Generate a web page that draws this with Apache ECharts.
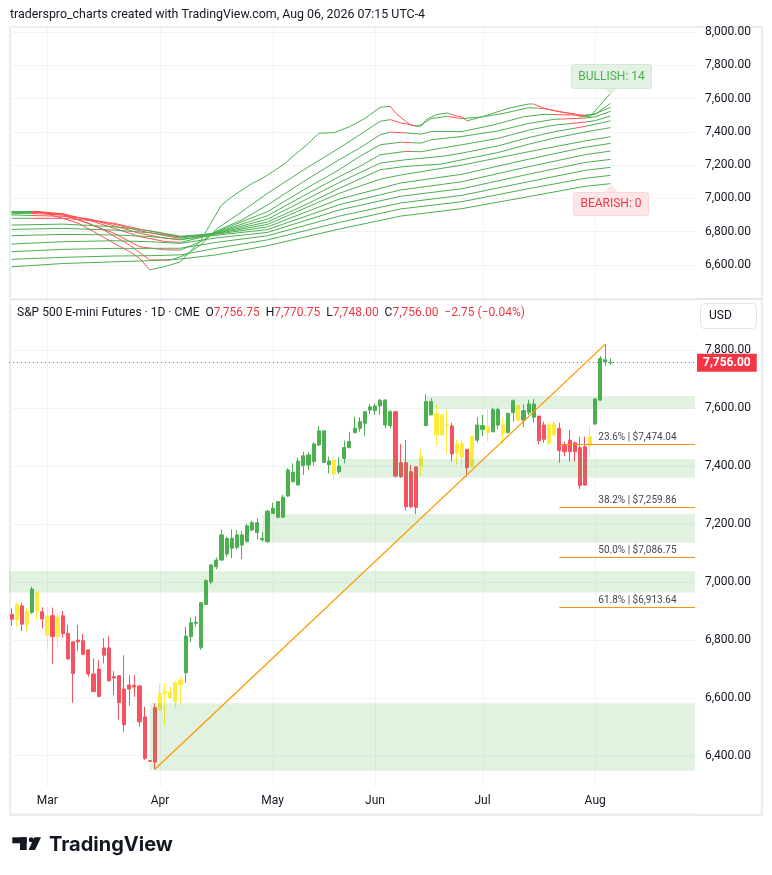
<!DOCTYPE html>
<html><head><meta charset="utf-8">
<script src="https://cdn.jsdelivr.net/npm/echarts@6/dist/echarts.min.js"></script>
<style>html,body{margin:0;padding:0;background:#fff}#c{width:772px;height:875px}</style>
</head><body><div id="c"></div>
<script>
// ---------------- DATA ----------------
const year = 2026;
const dates = ['02-19','02-20','02-23','02-24','02-25','02-26','02-27',
'03-02','03-03','03-04','03-05','03-06','03-09','03-10','03-11','03-12','03-13','03-16','03-17','03-18','03-19','03-20','03-23','03-24','03-25','03-26','03-27','03-30','03-31',
'04-01','04-02','04-03','04-06','04-07','04-08','04-09','04-10','04-13','04-14','04-15','04-16','04-17','04-20','04-21','04-22','04-23','04-24','04-27','04-28','04-29','04-30',
'05-01','05-04','05-05','05-06','05-07','05-08','05-11','05-12','05-13','05-14','05-15','05-18','05-19','05-20','05-21','05-22','05-26','05-27','05-28','05-29',
'06-01','06-02','06-03','06-04','06-05','06-08','06-09','06-10','06-11','06-12','06-15','06-16','06-17','06-18','06-22','06-23','06-24','06-25','06-26','06-29','06-30',
'07-01','07-02','07-06','07-07','07-08','07-09','07-10','07-13','07-14','07-15','07-16','07-17','07-20','07-21','07-22','07-23','07-24','07-27','07-28','07-29','07-30','07-31',
'08-03','08-04','08-05','08-06',
'08-07','08-10','08-11','08-12','08-13','08-14','08-17','08-18','08-19','08-20','08-21','08-24','08-25','08-26','08-27','08-28'];
const monthNames = ['Jan','Feb','Mar','Apr','May','Jun','Jul','Aug','Sep','Oct','Nov','Dec'];

const opens = [6888,6870,6917,6854,6895,6964,6897,6882,6883,6811,
6883,6822,6793,6799,6797,6765,6682,6699,6772,6772,
6673,6676,6630,6644,6643,6641,6534,6383,6378,6558,
6615,6619,6586,6646,6686,6811,6857,6774,6922,7000,
7052,7075,7096,7116,7119,7127,7139,7179,7170,7145,
7139,7236,7223,7223,7296,7346,7334,7401,7403,7415,
7472,7412,7404,7372,7380,7426,7463,7515,7530,7547,
7593,7591,7607,7541,7539,7587,7411,7411,7380,7397,
7397,7539,7576,7581,7507,7539,7538,7446,7430,7457,
7397,7489,7526,7515,7518,7541,7541,7515,7584,7607,
7558,7584,7568,7572,7541,7478,7507,7530,7472,7489,
7480,7463,7466,7469,7545,7627,7766,7756.75];
const highs = [6908,6930,6928,6911,6983,6968,6912,6911,6911,6894,
6899,6851,6793,6851,6820,6768,6736,6730,6806,6813,
6692,6676,6747,6678,6678,6643,6569,6384,6581,6650,
6650,6638,6659,6673,6845,6877,6882,6930,7009,7062,
7084,7181,7156,7181,7179,7175,7200,7211,7219,7172,
7248,7273,7279,7300,7392,7409,7429,7449,7449,7481,
7538,7521,7432,7438,7430,7487,7518,7570,7568,7590,
7614,7616,7631,7631,7593,7590,7476,7489,7403,7397,
7457,7647,7633,7610,7576,7593,7549,7492,7489,7457,
7503,7568,7576,7595,7601,7601,7564,7584,7630,7613,
7613,7628,7631,7572,7553,7553,7556,7549,7484,7524,
7484,7501,7501,7538,7633,7779,7820.25,7770.75];
const lows = [6848,6845,6830,6828,6889,6868,6839,6767,6716,6773,
6808,6730,6583,6762,6747,6673,6621,6604,6719,6655,
6609,6525,6482,6572,6603,6500,6386,6379,6353.25,6558,
6504,6598,6566,6575,6652,6793,6845,6765,6922,6991,
7043,7073,7085,7081,7112,7078,7135,7175,7147,7139,
7135,7236,7219,7223,7294,7342,7334,7369,7386,7400,
7469,7409,7374,7351,7372,7409,7461,7512,7518,7503,
7579,7576,7576,7530,7530,7360,7359,7246,7254,7234,
7365,7539,7576,7470,7503,7443,7415,7405,7400,7363,
7395,7480,7503,7484,7516,7527,7476,7512,7553,7553,
7533,7576,7549,7474,7480,7476,7503,7411,7434,7415,
7415,7320,7332,7430,7541,7625,7746,7748];
const closes = [6871,6922,6854,6899,6975,6899,6872,6816,6811,6879,
6822,6734,6684,6793,6750,6682,6621,6604,6747,6659,
6668,6583,6507,6630,6637,6517,6391,6381,6566,6615,
6623,6600,6652,6661,6813,6859,6861,6928,7004,7058,
7075,7162,7150,7150,7162,7162,7193,7204,7204,7150,
7244,7254,7277,7292,7386,7378,7417,7435,7438,7476,
7521,7521,7417,7420,7400,7463,7484,7530,7553,7587,
7604,7607,7627,7627,7587,7365,7363,7259,7259,7257,
7432,7622,7622,7507,7576,7542,7441,7476,7478,7394,
7503,7541,7539,7535,7595,7595,7512,7581,7625,7558,
7591,7614,7614,7487,7492,7541,7545,7453,7449,7449,
7449,7332,7334,7501,7631,7771,7758.75,7756];
// U = bullish, D = bearish, N = neutral (indicator bar state)
const signals = ['D','N','D','N','U','N','D','N','D','N',
'D','D','D','D','D','D','D','D','D','D',
'D','D','D','D','D','D','D','D','D','N',
'N','N','N','N','U','U','U','U','U','U',
'U','U','U','U','U','U','U','U','U','U',
'U','U','U','U','U','U','U','U','U','U',
'U','U','U','N','U','U','U','U','U','U',
'U','U','U','U','U','D','D','D','D','D',
'N','U','U','N','N','N','D','N','N','D',
'N','U','U','N','U','U','N','U','U','N',
'U','U','U','D','D','N','N','D','D','D',
'D','D','D','N','U','U','U','U'];

// MA ribbon (top pane)
const ribbon1 = [['02-19',6905],['02-24',6912],['02-26',6920],['03-02',6905],['03-05',6880],['03-10',6850],['03-13',6800],['03-19',6730],['03-24',6680],['03-26',6640],['03-30',6570],['04-02',6590],['04-07',6618],['04-13',6749],['04-17',6959],['04-21',7009],['04-23',7050],['04-27',7090],['04-29',7120],['05-01',7160],['05-05',7200],['05-06',7226],['05-08',7280],['05-12',7330],['05-14',7391],['05-19',7395],['05-22',7430],['05-28',7480],['06-02',7547],['06-04',7553],['06-05',7513],['06-09',7463],['06-10',7439],['06-12',7433],['06-15',7473],['06-17',7503],['06-22',7513],['06-23',7503],['06-25',7488],['06-26',7466],['07-01',7491],['07-06',7511],['07-09',7541],['07-15',7567],['07-16',7567],['07-20',7541],['07-23',7521],['07-28',7507],['07-29',7491],['07-31',7491],['08-04',7561],['08-06',7631]];
const ribbon2 = [['02-19',6912],['02-26',6918],['03-05',6900],['03-12',6850],['03-17',6809],['03-24',6720],['03-30',6630],['04-03',6628],['04-08',6660],['04-13',6720],['04-16',6815],['04-23',6920],['04-30',7030],['05-11',7170],['05-20',7302],['05-27',7382],['06-02',7463],['06-04',7473],['06-08',7453],['06-10',7443],['06-11',7433],['06-12',7443],['06-16',7479],['06-22',7493],['06-25',7479],['07-01',7490],['07-08',7510],['07-15',7545],['07-20',7540],['07-24',7515],['07-30',7497],['08-03',7505],['08-06',7571]];
const ribbon3 = [['02-19',6918],['02-26',6922],['03-05',6905],['03-11',6860],['03-19',6790],['03-26',6709],['04-02',6690],['04-07',6689],['04-13',6740],['04-16',6803],['04-23',6870],['04-30',6960],['05-11',7100],['05-20',7232],['05-27',7302],['06-02',7382],['06-04',7398],['06-09',7393],['06-12',7386],['06-16',7402],['06-25',7402],['07-06',7440],['07-14',7490],['07-20',7505],['07-24',7502],['07-30',7500],['08-03',7508],['08-06',7547]];
const ribbon4 = [['02-19',6922],['03-05',6908],['03-12',6870],['03-19',6820],['03-26',6770],['04-02',6740],['04-07',6735],['04-13',6765],['04-16',6798],['04-30',6920],['05-11',7050],['05-20',7172],['05-27',7252],['06-02',7322],['06-08',7337],['06-12',7332],['06-16',7352],['06-25',7372],['07-07',7405],['07-15',7450],['07-22',7475],['07-30',7482],['08-03',7490],['08-06',7523]];
const ribbon5 = [['02-19',6915],['03-05',6900],['03-12',6875],['03-19',6835],['03-26',6790],['04-02',6760],['04-07',6750],['04-13',6772],['04-16',6795],['04-30',6895],['05-11',7015],['05-20',7130],['05-27',7192],['06-02',7262],['06-09',7282],['06-12',7280],['06-18',7302],['06-25',7322],['07-07',7360],['07-15',7410],['07-22',7440],['07-30',7458],['08-03',7467],['08-06',7495]];
const ribbon6 = [['02-19',6900],['03-05',6892],['03-12',6875],['03-19',6845],['03-26',6805],['04-02',6775],['04-07',6760],['04-13',6778],['04-16',6793],['04-30',6875],['05-11',6985],['05-20',7095],['06-02',7212],['06-09',7232],['06-18',7252],['06-25',7272],['07-07',7315],['07-15',7365],['07-22',7400],['07-30',7432],['08-06',7466]];
const ribbon7 = [['02-19',6880],['03-05',6880],['03-12',6868],['03-19',6850],['03-26',6815],['04-02',6785],['04-07',6768],['04-13',6780],['04-16',6790],['04-30',6858],['05-11',6955],['05-20',7060],['06-02',7172],['06-09',7192],['06-18',7206],['06-25',7232],['07-07',7275],['07-15',7325],['07-22',7362],['07-30',7398],['08-06',7425]];
const ribbon8 = [['02-19',6839],['03-05',6845],['03-19',6829],['03-30',6805],['04-07',6772],['04-16',6788],['04-30',6843],['05-20',7030],['06-02',7115],['06-08',7140],['06-25',7200],['07-15',7280],['07-30',7345],['08-06',7370]];
const ribbon9 = [['02-19',6813],['03-05',6819],['03-19',6809],['03-30',6793],['04-07',6766],['04-16',6784],['04-30',6828],['05-20',6995],['06-08',7092],['06-25',7145],['07-15',7235],['07-30',7307],['08-06',7330]];
const ribbon10 = [['02-19',6775],['03-05',6783],['03-19',6780],['03-30',6770],['04-07',6753],['04-16',6778],['04-30',6812],['05-20',6962],['06-08',7050],['06-25',7100],['07-15',7190],['07-30',7262],['08-06',7284]];
const ribbon11 = [['02-19',6725],['03-05',6739],['03-19',6745],['03-30',6739],['04-07',6729],['04-16',6762],['04-30',6795],['05-20',6930],['06-08',7012],['06-25',7058],['07-15',7145],['07-30',7215],['08-06',7234]];
const ribbon12 = [['02-19',6679],['03-05',6693],['03-19',6699],['03-30',6699],['04-07',6700],['04-16',6735],['04-30',6775],['05-20',6893],['06-08',6972],['06-25',7018],['07-15',7100],['07-30',7168],['08-06',7186]];
const ribbon13 = [['02-19',6633],['03-05',6645],['03-19',6653],['03-30',6655],['04-07',6660],['04-16',6700],['04-30',6750],['05-20',6855],['06-08',6936],['06-25',6980],['07-15',7058],['07-30',7120],['08-06',7138]];
const ribbon14 = [['02-19',6588],['03-05',6608],['03-19',6618],['03-30',6625],['04-07',6635],['04-16',6660],['04-30',6715],['05-20',6815],['06-08',6893],['06-25',6938],['07-15',7010],['07-30',7072],['08-06',7088]];
// spans where each ribbon line is falling (bearish state)
const bearishSpans = [
  [['02-25','03-30'],['06-04','06-10'],['06-23','06-26'],['07-16','07-29']],
  [['02-25','04-03'],['06-04','06-11'],['06-22','06-25'],['07-17','07-30']],
  [['02-25','04-07'],['06-04','06-09'],['07-22','07-30']],
  [['02-25','04-07'],['06-08','06-10'],['07-23','07-30']],
  [['02-25','04-07'],['06-09','06-10'],['07-27','07-30']],
  [['02-25','04-07'],['07-28','07-30']],
  [['02-25','04-07']],
  [],[],[],[],[],[],[]
];
const bullishCount = 14, bearishCount = 0;

// support zones (price bounds) and their start bars (null = from chart start)
const zoneTop = [7641, 7424, 7234, 7037, 6581];
const zoneBottom = [7597, 7359, 7135, 6963, 6348];
const zoneStart = ['06-15', '05-20', '04-29', null, '03-30'];

// swing used for trend line and fibonacci
const swingLowDate = '03-31', swingHighDate = '08-05', fibStartDate = '07-23';
const fibRatios = [23.6, 38.2, 50.0, 61.8];

const symbolName = 'S&P 500 E-mini Futures · 1D · CME';
const titleText = 'traderspro_charts created with TradingView.com, Aug 06, 2026 07:15 UTC-4';

// ---------------- BUILD ----------------
const GREEN = '#4caf50', RED = '#f7525f', YELLOW = '#ffeb3b', LINE_RED = '#ff5252';
const idx = md => dates.indexOf(md);
const fmt = v => v.toLocaleString('en-US', {minimumFractionDigits: 2, maximumFractionDigits: 2});
const monthStarts = [];
for (let i = 1; i < dates.length; i++) if (dates[i].slice(0,2) !== dates[i-1].slice(0,2)) monthStarts.push(i);
const monthSet = new Set(monthStarts);

const ribbons = [ribbon1,ribbon2,ribbon3,ribbon4,ribbon5,ribbon6,ribbon7,ribbon8,ribbon9,ribbon10,ribbon11,ribbon12,ribbon13,ribbon14];
const series = [];
const visualMaps = [];
ribbons.forEach((r, k) => {
  const spans = bearishSpans[k];
  const s = {
    type: 'line', xAxisIndex: 0, yAxisIndex: 0, name: 'ma' + (k+1),
    data: r.filter(p => idx(p[0]) >= 0).map(p => [idx(p[0]), p[1]]),
    showSymbol: false, symbol: 'none', smooth: false, silent: true, z: 3,
    lineStyle: {width: 1}
  };
  if (!spans.length) { s.color = GREEN; }
  series.push(s);
  if (spans.length) {
    visualMaps.push({
      show: false, type: 'piecewise', seriesIndex: k, dimension: 0,
      pieces: spans.map(sp => ({gte: idx(sp[0]), lte: idx(sp[1]), color: LINE_RED})),
      outOfRange: {color: GREEN}
    });
  }
});

const sigColor = {U: GREEN, D: RED, N: YELLOW};
const candleData = opens.map((o, i) => {
  const c = sigColor[signals[i]];
  return {value: [o, closes[i], lows[i], highs[i]], itemStyle: {color: c, color0: c, borderColor: c, borderColor0: c, borderWidth: 1}};
});
const last = opens.length - 1;

function gridLineRender(pad) {
  return function (params, api) {
    const cs = params.coordSys;
    const x = Math.round(api.coord([api.value(0), api.value(1)])[0]) + 0.5;
    return {type: 'line', shape: {x1: x, y1: cs.y, x2: x, y2: cs.y + cs.height - pad}, style: {stroke: '#f0f3fa', lineWidth: 1}, silent: true};
  };
}
series.push({type: 'custom', xAxisIndex: 0, yAxisIndex: 0, z: 1, silent: true, renderItem: gridLineRender(0), data: monthStarts.map(i => [i, 7000])});
series.push({type: 'custom', xAxisIndex: 1, yAxisIndex: 1, z: 1, silent: true, renderItem: gridLineRender(27), data: monthStarts.map(i => [i, 7000])});

series.push({
  type: 'candlestick', xAxisIndex: 1, yAxisIndex: 1, z: 2, barWidth: 3.6, silent: true,
  data: candleData,
  markLine: {
    silent: true, symbol: ['none', 'none'], animation: false,
    data: [{yAxis: closes[last]}],
    lineStyle: {color: '#f23645', type: [1, 3], width: 1},
    label: {position: 'end', distance: 2, formatter: fmt(closes[last]), backgroundColor: '#f23645', color: '#fff', fontWeight: 'bold', fontSize: 12, fontFamily: 'Roboto', padding: [3, 6, 3, 6]}
  }
});

series.push({
  type: 'custom', xAxisIndex: 1, yAxisIndex: 1, z: 3, silent: true, clip: true,
  data: zoneTop.map((t, k) => [zoneStart[k] === null ? -1 : idx(zoneStart[k]), t, zoneBottom[k]]),
  renderItem: function (params, api) {
    const cs = params.coordSys;
    const s = api.value(0);
    const x0 = s < 0 ? cs.x : api.coord([s, api.value(1)])[0];
    const y0 = api.coord([0, api.value(1)])[1];
    const y1 = api.coord([0, api.value(2)])[1];
    return {type: 'rect', shape: {x: x0, y: y0, width: cs.x + cs.width - x0, height: y1 - y0}, style: {fill: 'rgba(76,175,80,0.17)'}};
  }
});

const iLow = idx(swingLowDate), iHigh = idx(swingHighDate);
const swingLow = lows[iLow], swingHigh = highs[iHigh];
series.push({
  type: 'line', xAxisIndex: 1, yAxisIndex: 1, z: 5, silent: true, showSymbol: false, symbol: 'none',
  data: [[iLow, swingLow], [iHigh, swingHigh]],
  color: '#ff9800', lineStyle: {color: '#ff9800', width: 1.3}
});

const fibLevels = fibRatios.map(r => swingHigh - r / 100 * (swingHigh - swingLow));
series.push({
  type: 'custom', xAxisIndex: 1, yAxisIndex: 1, z: 5, silent: true,
  data: fibLevels.map((lv, k) => [idx(fibStartDate), lv, k]),
  renderItem: function (params, api) {
    const cs = params.coordSys;
    const p = api.coord([api.value(0), api.value(1)]);
    const y = Math.round(p[1]) + 0.5;
    const k = api.value(2);
    return {type: 'group', children: [
      {type: 'line', shape: {x1: p[0], y1: y, x2: cs.x + cs.width, y2: y}, style: {stroke: '#f7931a', lineWidth: 1}},
      {type: 'text', x: p[0] + 39, y: y - 2, style: {text: fibRatios[k].toFixed(1) + '% | $' + fmt(fibLevels[k]), fill: '#434651', font: '10px Roboto', align: 'left', verticalAlign: 'bottom'}}
    ]};
  }
});

const chg = closes[last] - closes[last - 1];
const pct = chg / closes[last - 1] * 100;
const sgn = v => (v < 0 ? '\u2212' : '+') + Math.abs(v).toFixed(2);

const axisLabelStyle = {color: '#131722', fontSize: 12, fontFamily: 'Roboto'};
const option = {
  animation: false,
  backgroundColor: '#fff',
  grid: [
    {left: 9, top: 27, width: 686, height: 271.1},
    {left: 9, top: 300, width: 686, height: 513.7}
  ],
  xAxis: [
    {type: 'category', gridIndex: 0, data: dates, boundaryGap: true, axisLine: {show: false}, axisTick: {show: false}, axisLabel: {show: false}, splitLine: {show: false}},
    {type: 'category', gridIndex: 1, data: dates, boundaryGap: true, axisLine: {show: false}, axisTick: {show: false}, splitLine: {show: false},
     axisLabel: Object.assign({}, axisLabelStyle, {interval: (i) => monthSet.has(i), formatter: v => monthNames[parseInt(v.slice(0,2), 10) - 1], margin: -19, hideOverlap: false})}
  ],
  yAxis: [
    {type: 'value', gridIndex: 0, position: 'right', min: 6400, max: 8030, interval: 200, scale: true,
     axisLine: {show: false}, axisTick: {show: false}, splitLine: {lineStyle: {color: '#f0f3fa'}},
     axisLabel: Object.assign({}, axisLabelStyle, {margin: 10, formatter: v => (v % 200 === 0 && v >= 6600 && v <= 8000) ? fmt(v) : ''})},
    {type: 'value', gridIndex: 1, position: 'right', min: 6200, max: 7972.5, interval: 200, scale: true,
     axisLine: {show: false}, axisTick: {show: false}, splitLine: {lineStyle: {color: '#f0f3fa'}},
     axisLabel: Object.assign({}, axisLabelStyle, {margin: 10, formatter: v => (v % 200 === 0 && v >= 6400 && v <= 7800) ? fmt(v) : ''})}
  ],
  visualMap: visualMaps,
  series: series,
  graphic: [
    {type: 'rect', silent: true, z: 0, shape: {x: 10, y: 27, width: 752, height: 788}, style: {fill: 'none', stroke: '#ececec', lineWidth: 2}},
    {type: 'line', silent: true, z: 0, shape: {x1: 10, y1: 299, x2: 762, y2: 299}, style: {stroke: '#e6e6e6', lineWidth: 2}},
    {type: 'text', z: 100, x: 10, y: 15, style: {text: titleText, fill: '#131722', font: '12.4px Roboto', verticalAlign: 'middle'}},
    {type: 'text', z: 100, x: 17, y: 313, style: {
      text: '{t|' + symbolName + '}  {k|O}{v|' + fmt(opens[last]) + '}  {k|H}{v|' + fmt(highs[last]) + '}  {k|L}{v|' + fmt(lows[last]) + '}  {k|C}{v|' + fmt(closes[last]) + '}  {v|' + sgn(chg) + ' (' + sgn(pct) + '%)}',
      verticalAlign: 'middle', font: '12px Roboto',
      rich: {t: {fill: '#131722', font: '12px Roboto'}, k: {fill: '#131722', font: '12px Roboto'}, v: {fill: '#f23645', font: '12px Roboto'}}
    }},
    {type: 'rect', z: 100, shape: {x: 700.5, y: 303.5, width: 56, height: 25, r: 4}, style: {fill: '#fff', stroke: '#e0e3eb', lineWidth: 1}},
    {type: 'text', z: 101, x: 709, y: 316, style: {text: 'USD', fill: '#131722', font: '12px Roboto', verticalAlign: 'middle'}},
    // bullish / bearish tags
    {type: 'polygon', z: 100, shape: {points: [[604, 88], [618, 88], [611, 95]]}, style: {fill: '#e4f2e5'}},
    {type: 'rect', z: 100, shape: {x: 571.5, y: 64.5, width: 80, height: 24, r: 2}, style: {fill: '#e4f2e5', stroke: '#d2ead3', lineWidth: 1}},
    {type: 'text', z: 101, x: 611.5, y: 76.5, style: {text: 'BULLISH: ' + bullishCount, fill: GREEN, font: '12px Roboto', align: 'center', verticalAlign: 'middle'}},
    {type: 'polygon', z: 100, shape: {points: [[604, 192], [618, 192], [611, 185]]}, style: {fill: '#fde6e8'}},
    {type: 'rect', z: 100, shape: {x: 573.5, y: 192.5, width: 75, height: 23, r: 2}, style: {fill: '#fde6e8', stroke: '#fbd5d8', lineWidth: 1}},
    {type: 'text', z: 101, x: 611, y: 204, style: {text: 'BEARISH: ' + bearishCount, fill: '#f23645', font: '12px Roboto', align: 'center', verticalAlign: 'middle'}},
    // TradingView logo
    {type: 'rect', z: 100, shape: {x: 12.3, y: 837.3, width: 14.4, height: 6}, style: {fill: '#131722'}},
    {type: 'rect', z: 100, shape: {x: 20, y: 837.3, width: 6.7, height: 12.7}, style: {fill: '#131722'}},
    {type: 'circle', z: 100, shape: {cx: 31.3, cy: 839.8, r: 2.5}, style: {fill: '#131722'}},
    {type: 'polygon', z: 100, shape: {points: [[34.5, 837.3], [41, 837.3], [35, 850], [28.5, 850]]}, style: {fill: '#131722'}},
    {type: 'text', z: 100, x: 49, y: 845, style: {text: 'TradingView', fill: '#131722', font: 'bold 20px Inter', verticalAlign: 'middle'}}
  ]
};
const chart = echarts.init(document.getElementById('c'), null, {renderer: 'canvas'});
chart.setOption(option);
</script>
</body></html>
